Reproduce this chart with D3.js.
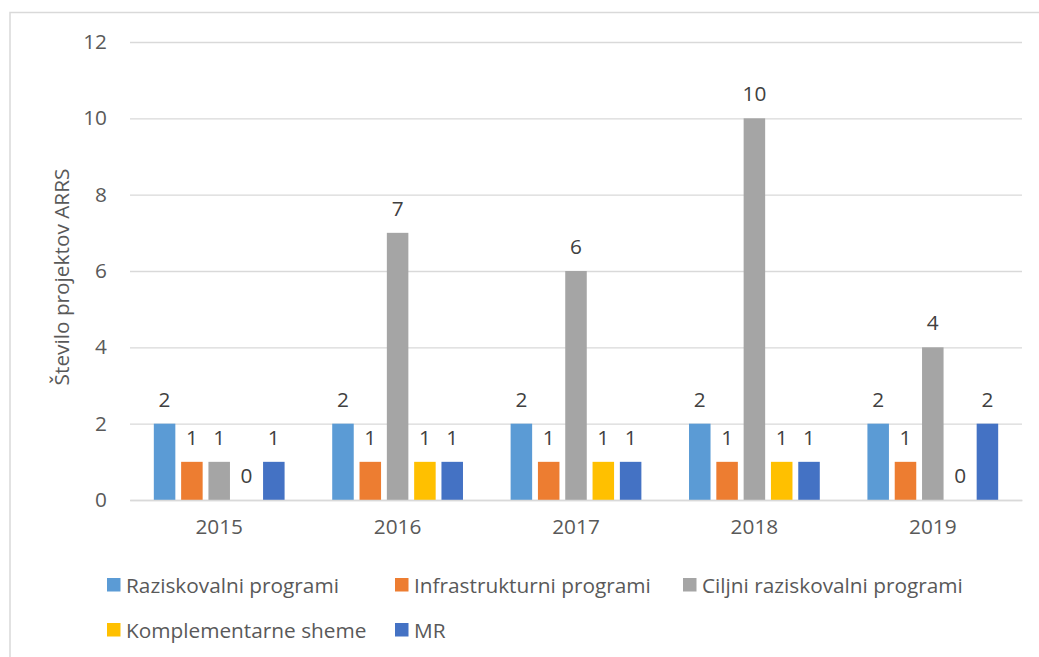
<!DOCTYPE html>
<html><head><meta charset="utf-8">
<script src="https://cdn.jsdelivr.net/npm/d3@7"></script>
<style>body{margin:0;background:#fff}svg{display:block}text{font-family:"Open Sans",sans-serif}</style>
</head><body><svg id="c" width="1039" height="657"></svg>
<script>
const categories = ["2015","2016","2017","2018","2019"];
const seriesNames = ["Raziskovalni programi","Infrastrukturni programi","Ciljni raziskovalni programi","Komplementarne sheme","MR"];
const raziskovalni = [2,2,2,2,2];
const infrastrukturni = [1,1,1,1,1];
const ciljni = [1,7,6,10,4];
const komplementarne = [0,1,1,1,0];
const mr = [1,1,1,1,2];
const yTicks = [0,2,4,6,8,10,12];
const colors = ["#5B9BD5","#ED7D31","#A5A5A5","#FFC000","#4472C4"];
const allSeries = [raziskovalni,infrastrukturni,ciljni,komplementarne,mr];
const FS = "20.8px";

const svg = d3.select("#c");
svg.append("rect").attr("x",10).attr("y",12.5).attr("width",1040).attr("height",700)
  .attr("fill","none").attr("stroke","#d9d9d9").attr("stroke-width",1.5);

const pL=130,pR=1022,pT=42,pB=500;
const y = d3.scaleLinear().domain([0,12]).range([pB,pT]);
const x0 = d3.scaleBand().domain(categories).range([pL,pR]).paddingInner(0.267).paddingOuter(0.1335);
const x1 = d3.scaleBand().domain(seriesNames).range([0,x0.bandwidth()]).paddingInner(0.212).paddingOuter(0);

const yAxis = d3.axisLeft(y).tickValues(yTicks).tickSize(-(pR-pL)).tickPadding(23);
const ga = svg.append("g").attr("transform",`translate(${pL},0)`).call(yAxis);
ga.select(".domain").remove();
ga.selectAll(".tick line").attr("stroke","#d9d9d9").attr("stroke-width",1.3);
ga.selectAll(".tick text").attr("fill","#595959").style("font-size",FS).style("font-family","Open Sans");

const data = [];
categories.forEach((c,i)=>seriesNames.forEach((s,j)=>data.push({c,s,j,v:allSeries[j][i]})));

svg.append("g").selectAll("rect").data(data).join("rect")
  .attr("x",d=>x0(d.c)+x1(d.s)).attr("width",x1.bandwidth())
  .attr("y",d=>y(d.v)).attr("height",d=>y(0)-y(d.v)).attr("fill",d=>colors[d.j]);

svg.append("g").selectAll("text").data(data).join("text")
  .attr("x",d=>x0(d.c)+x1(d.s)+x1.bandwidth()/2).attr("y",d=>y(d.v)-17)
  .attr("text-anchor","middle").attr("fill","#404040").style("font-size",FS).text(d=>d.v);

const xAxis = d3.axisBottom(x0).tickSize(0).tickPadding(19);
const gx = svg.append("g").attr("transform",`translate(0,${pB})`).call(xAxis);
gx.select(".domain").attr("stroke","#d9d9d9").attr("stroke-width",1.3);
gx.selectAll(".tick text").attr("fill","#595959").style("font-size",FS).style("font-family","Open Sans");

svg.append("text").attr("transform",`translate(69,${(pT+pB)/2+6}) rotate(-90)`)
  .attr("text-anchor","middle").attr("fill","#595959").style("font-size",FS).text("Število projektov ARRS");

const legPos = [[107,585],[395,585],[683,585],[107,630],[395,630]];
const lg = svg.append("g").selectAll("g").data(seriesNames).join("g")
  .attr("transform",(d,i)=>`translate(${legPos[i][0]},${legPos[i][1]})`);
lg.append("rect").attr("x",0).attr("y",-7).attr("width",13.5).attr("height",13.5).attr("fill",(d,i)=>colors[i]);
lg.append("text").attr("x",19).attr("y",7.5).attr("fill","#595959").style("font-size",FS).text(d=>d);
</script></body></html>
